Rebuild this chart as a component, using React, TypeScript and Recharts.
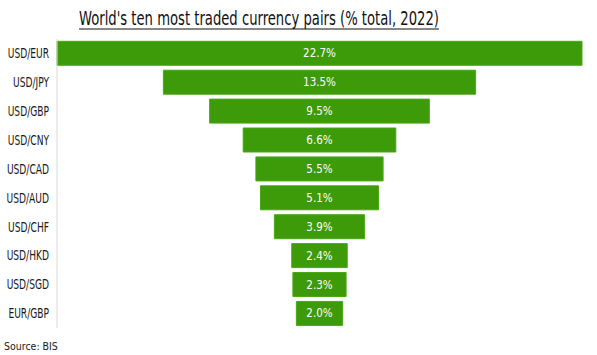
import { Bar, BarChart, LabelList, XAxis, YAxis } from 'recharts'

const pairs = ['USD/EUR', 'USD/JPY', 'USD/GBP', 'USD/CNY', 'USD/CAD', 'USD/AUD', 'USD/CHF', 'USD/HKD', 'USD/SGD', 'EUR/GBP']
const shares = [22.7, 13.5, 9.5, 6.6, 5.5, 5.1, 3.9, 2.4, 2.3, 2.0]
const maxShare = Math.max(...shares)

// funnel: an invisible offset pushes each bar to the centre
const rows = pairs.map((name, i) => ({ name, offset: (maxShare - shares[i]) / 2, share: shares[i] }))

const font = "'DejaVu Sans Condensed', 'Liberation Sans', sans-serif"

function PairTick({ x, y, payload }: any) {
  return (
    <g transform={`translate(${x},${y})`}>
      <text textAnchor="end" dy="0.35em" transform="scale(0.75,1)" fontSize={13.5} fill="#1a1a1a" fontFamily={font}>
        {payload.value}
      </text>
    </g>
  )
}

export default function App() {
  return (
    <div style={{ position: 'absolute', left: 0, top: 0, width: 597, height: 355, background: '#fff', fontFamily: font }}>
      <svg width={597} height={36} style={{ position: 'absolute', left: 0, top: 0 }}>
        <text x={79} y={25} fontSize={19} fill="#111" textLength={360} lengthAdjust="spacingAndGlyphs" fontFamily={font}>
          World's ten most traded currency pairs (% total, 2022)
        </text>
        <line x1={79} x2={439} y1={29} y2={29} stroke="#111" strokeWidth={1.2} />
      </svg>
      <BarChart width={597} height={355} data={rows} layout="vertical" barCategoryGap="8%" margin={{ top: 39, right: 15, bottom: 27, left: 0 }}>
        <XAxis type="number" hide domain={[0, maxShare]} />
        <YAxis type="category" dataKey="name" width={57} tickLine={false} axisLine={{ stroke: '#d9d9d9' }} tick={<PairTick />} tickMargin={2} />
        <Bar dataKey="offset" stackId="f" fill="transparent" isAnimationActive={false} />
        <Bar dataKey="share" stackId="f" fill="#3d9a08" stroke="#4aa816" strokeWidth={1} isAnimationActive={false}>
          <LabelList dataKey="share" position="center" fill="#ffffff" fontSize={11.5} fontFamily={font} formatter={(v: any) => `${Number(v).toFixed(1)}%`} />
        </Bar>
      </BarChart>
      <div style={{ position: 'absolute', left: 4, top: 340, fontSize: 10.5, color: '#1a1a1a' }}>Source: BIS</div>
    </div>
  )
}
